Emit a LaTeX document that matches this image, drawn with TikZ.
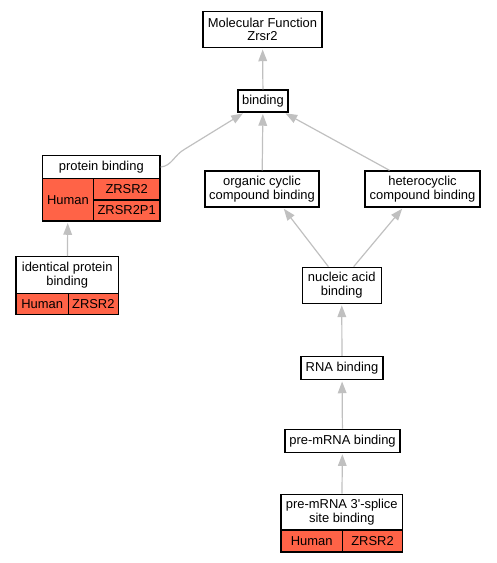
\documentclass[tikz,border=0pt]{standalone}
\usepackage{fontspec}
\setmainfont{Liberation Sans}
\usetikzlibrary{arrows.meta}
\definecolor{edgegray}{RGB}{192,192,192}
\definecolor{tomato}{RGB}{255,99,71}

\begin{document}
\begin{tikzpicture}[x=0.75pt,y=-0.75pt,>={Triangle[length=8.8pt,width=6.5pt]},
    term/.style={draw=black,line width=1pt,fill=white,inner sep=0pt,align=center,font=\fontsize{9.7}{10.2}\selectfont},
    cell/.style={term,fill=tomato},
    isa/.style={->,draw=edgegray,line width=0.9pt,shorten >=1pt}]
    \useasboundingbox (0,0) rectangle (496,563);
    % GO terms
    \node[term,minimum width=89.25pt,minimum height=27pt] (mf)   at (262.5,29.5)  {Molecular Function\\Zrsr2};
    \node[term,minimum width=37.5pt,minimum height=16.5pt] (bind) at (263,101)    {binding};
    \node[term,minimum width=85.5pt,minimum height=27pt]  (org)  at (262,189)     {organic cyclic\\compound binding};
    \node[term,minimum width=86.25pt,minimum height=27pt] (het)  at (422.5,189)   {heterocyclic\\compound binding};
    \node[term,minimum width=59.25pt,minimum height=27pt] (nuc)  at (341.7,285.3) {nucleic acid\\binding};
    \node[term,minimum width=61.5pt,minimum height=17.25pt] (rna)  at (342,368)   {RNA binding};
    \node[term,minimum width=86.25pt,minimum height=17.25pt] (pre) at (342.5,440.7) {pre-mRNA binding};
    % annotated terms with species and genes
    \node[term,minimum width=91.3pt,minimum height=26.8pt] (spl)    at (341.8,512.2) {pre-mRNA 3\textquotesingle-splice\\site binding};
    \node[cell,minimum width=46pt,minimum height=16.5pt]   (splhum) at (311.7,541)   {Human};
    \node[cell,minimum width=45.3pt,minimum height=16.5pt] (splgen) at (372.5,541)   {ZRSR2};
    \node[term,minimum width=88pt,minimum height=17pt]     (pb)     at (101.3,167)   {protein binding};
    \node[cell,minimum width=38pt,minimum height=32pt]     (pbhum)  at (68,199.7)    {Human};
    \node[cell,minimum width=50pt,minimum height=16.3pt]   (pbgen)  at (126.7,189.2) {ZRSR2};
    \node[cell,minimum width=50pt,minimum height=15.75pt]  (pbpse)  at (126.7,210.5) {ZRSR2P1};
    \node[term,minimum width=76.7pt,minimum height=27.5pt] (idp)    at (67.2,275)    {identical protein\\binding};
    \node[cell,minimum width=39.2pt,minimum height=15.75pt] (idphum) at (42.2,303.8) {Human};
    \node[cell,minimum width=37.5pt,minimum height=15.75pt] (idpgen) at (93.3,303.8) {ZRSR2};
    % is_a edges, child to parent
    \draw[isa] (bind) -- (mf);
    \draw[isa] (org) -- (bind);
    \draw[isa] ([xshift=-24.75pt]het.north) -- (bind);
    \draw[isa] (pb.east) .. controls (172,166) and (174,155) .. (185,149) -- (bind);
    \draw[isa] (idp) -- (pbhum);
    \draw[isa] ([xshift=-10pt]nuc.north) -- ([xshift=15.75pt]org.south);
    \draw[isa] ([xshift=9pt]nuc.north) -- ([xshift=-14.6pt]het.south);
    \draw[isa] (rna) -- (nuc);
    \draw[isa] (pre) -- (rna);
    \draw[isa] (spl) -- (pre);
\end{tikzpicture}
\end{document}
